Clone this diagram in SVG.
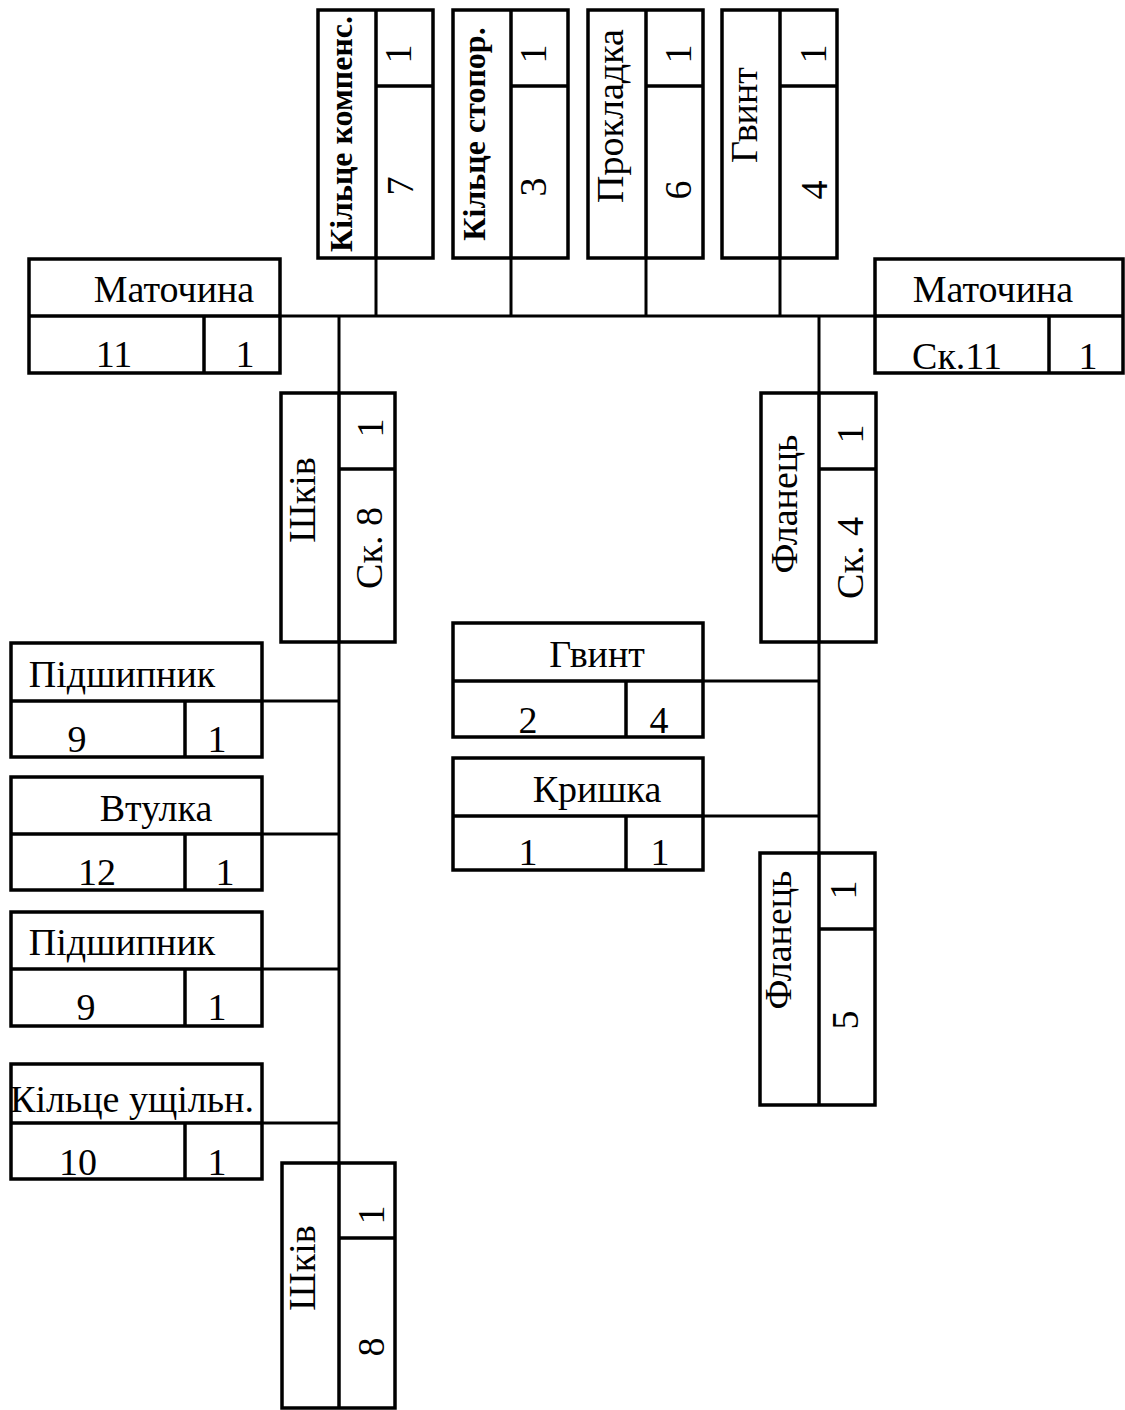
<svg xmlns="http://www.w3.org/2000/svg" width="1125" height="1410" viewBox="0 0 1125 1410">
<style>
.b{fill:#fff;stroke:#000;stroke-width:3.5}
.d{stroke:#000;stroke-width:3.5;fill:none}
.c{stroke:#000;stroke-width:3;fill:none}
text{font-family:"Liberation Serif","Times New Roman",serif;font-size:38px;fill:#000;text-anchor:middle}
.bold{font-weight:bold;font-size:32px}
</style>
<rect width="1125" height="1410" fill="#fff"/>
<g id="connectors">
<path class="c" d="M280 316H875M376 258V316M511 258V316M646 258V316M780 258V316M339 316V1163M262 701H339M262 834H339M262 969H339M262 1123H339M819 316V853M703 681H819M703 816H819"/>
</g>
<g id="n-kiltse-kompens">
<rect class="b" x="318" y="10" width="115" height="248"/>
<path class="d" d="M376 10V258M376 86H433"/>
<text class="bold" transform="translate(352,134) rotate(-90)">Кільце компенс.</text>
<text transform="translate(411,54) rotate(-90)">1</text>
<text transform="translate(413,186) rotate(-90)">7</text>
</g>
<g id="n-kiltse-stopor">
<rect class="b" x="453" y="10" width="115" height="248"/>
<path class="d" d="M511 10V258M511 86H568"/>
<text class="bold" transform="translate(485,134) rotate(-90)">Кільце стопор.</text>
<text transform="translate(546,54) rotate(-90)">1</text>
<text transform="translate(546,187) rotate(-90)">3</text>
</g>
<g id="n-prokladka">
<rect class="b" x="588" y="10" width="115" height="248"/>
<path class="d" d="M646 10V258M646 86H703"/>
<text transform="translate(623,116) rotate(-90)">Прокладка</text>
<text transform="translate(691,54) rotate(-90)">1</text>
<text transform="translate(691,190) rotate(-90)">6</text>
</g>
<g id="n-gvynt-top">
<rect class="b" x="722" y="10" width="115" height="248"/>
<path class="d" d="M780 10V258M780 86H837"/>
<text transform="translate(757,115) rotate(-90)">Гвинт</text>
<text transform="translate(826,54) rotate(-90)">1</text>
<text transform="translate(827,190) rotate(-90)">4</text>
</g>
<g id="n-matochyna-left">
<rect class="b" x="29" y="259" width="251" height="114"/>
<path class="d" d="M29 316H280M204 316V373"/>
<text x="174" y="302">Маточина</text>
<text x="114" y="367">11</text>
<text x="245" y="367">1</text>
</g>
<g id="n-matochyna-right">
<rect class="b" x="875" y="259" width="248" height="114"/>
<path class="d" d="M875 316H1123M1049 316V373"/>
<text x="993" y="302">Маточина</text>
<text x="957" y="369">Ск.11</text>
<text x="1088" y="369">1</text>
</g>
<g id="n-shkiv-sk8">
<rect class="b" x="281" y="393" width="114" height="249"/>
<path class="d" d="M339 393V642M339 469H395"/>
<text transform="translate(315,500) rotate(-90)">Шків</text>
<text transform="translate(383,428) rotate(-90)">1</text>
<text transform="translate(382,548) rotate(-90)">Ск. 8</text>
</g>
<g id="n-flanets-sk4">
<rect class="b" x="761" y="393" width="115" height="249"/>
<path class="d" d="M819 393V642M819 469H876"/>
<text transform="translate(797,504) rotate(-90)">Фланець</text>
<text transform="translate(863,434) rotate(-90)">1</text>
<text transform="translate(863,558) rotate(-90)">Ск. 4</text>
</g>
<g id="n-pidshypnyk-1">
<rect class="b" x="11" y="643" width="251" height="114"/>
<path class="d" d="M11 701H262M185 701V757"/>
<text x="122" y="687">Підшипник</text>
<text x="77" y="752">9</text>
<text x="217" y="752">1</text>
</g>
<g id="n-vtulka">
<rect class="b" x="11" y="777" width="251" height="113"/>
<path class="d" d="M11 834H262M185 834V890"/>
<text x="156" y="821">Втулка</text>
<text x="97" y="885">12</text>
<text x="225" y="885">1</text>
</g>
<g id="n-pidshypnyk-2">
<rect class="b" x="11" y="912" width="251" height="114"/>
<path class="d" d="M11 969H262M185 969V1026"/>
<text x="122" y="955">Підшипник</text>
<text x="86" y="1020">9</text>
<text x="217" y="1020">1</text>
</g>
<g id="n-kiltse-ushchiln">
<rect class="b" x="11" y="1064" width="251" height="115"/>
<path class="d" d="M11 1123H262M185 1123V1179"/>
<text x="132" y="1112">Кільце ущільн.</text>
<text x="78" y="1175">10</text>
<text x="217" y="1175">1</text>
</g>
<g id="n-gvynt">
<rect class="b" x="453" y="623" width="250" height="114"/>
<path class="d" d="M453 681H703M626 681V737"/>
<text x="597" y="667">Гвинт</text>
<text x="528" y="733">2</text>
<text x="659" y="733">4</text>
</g>
<g id="n-kryshka">
<rect class="b" x="453" y="758" width="250" height="112"/>
<path class="d" d="M453 816H703M626 816V870"/>
<text x="597" y="802">Кришка</text>
<text x="528" y="865">1</text>
<text x="660" y="865">1</text>
</g>
<g id="n-flanets-5">
<rect class="b" x="760" y="853" width="115" height="252"/>
<path class="d" d="M819 853V1105M819 929H875"/>
<text transform="translate(791,940) rotate(-90)">Фланець</text>
<text transform="translate(856,890) rotate(-90)">1</text>
<text transform="translate(858,1020) rotate(-90)">5</text>
</g>
<g id="n-shkiv-8">
<rect class="b" x="282" y="1163" width="113" height="245"/>
<path class="d" d="M339 1163V1408M339 1238H395"/>
<text transform="translate(315,1268) rotate(-90)">Шків</text>
<text transform="translate(384,1215) rotate(-90)">1</text>
<text transform="translate(384,1347) rotate(-90)">8</text>
</g>
</svg>
